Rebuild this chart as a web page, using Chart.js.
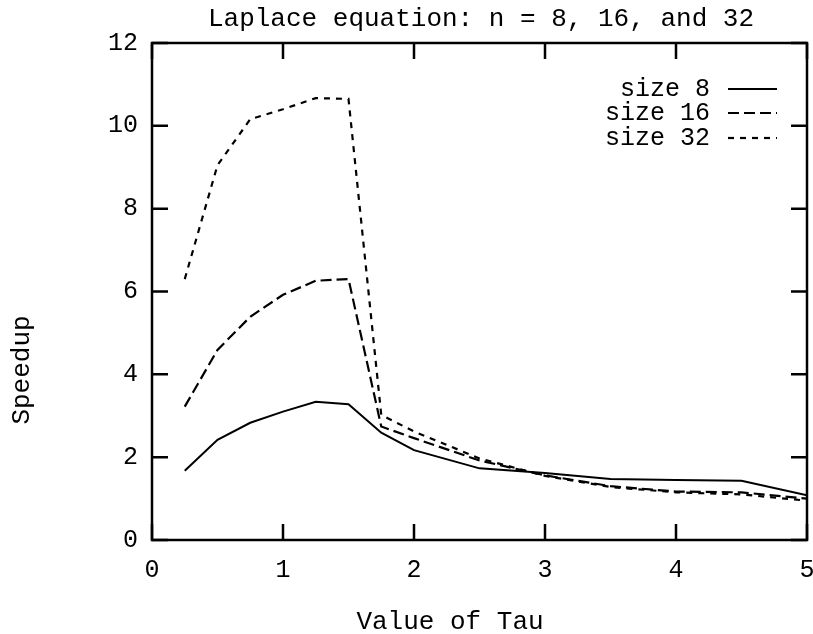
<!DOCTYPE html>
<html>
<head>
<meta charset="utf-8">
<script src="https://cdn.jsdelivr.net/npm/chart.js@4"></script>
<style>
  html, body { margin: 0; padding: 0; background: #fff; }
  #wrap { width: 813px; height: 634px; }
</style>
</head>
<body>
<div id="wrap"><canvas id="speedChart" width="813" height="634"></canvas></div>
<script>
// values
var tau = [0.25, 0.5, 0.75, 1.0, 1.25, 1.5, 1.75, 2.0, 2.5, 3.0, 3.5, 4.0, 4.5, 5.0];
var size8 = [1.67, 2.42, 2.83, 3.10, 3.34, 3.28, 2.59, 2.17, 1.73, 1.62, 1.47, 1.45, 1.43, 1.08];
var size16 = [3.22, 4.59, 5.39, 5.92, 6.26, 6.30, 2.74, 2.46, 1.92, 1.56, 1.30, 1.17, 1.15, 1.00];
var size32 = [6.30, 9.05, 10.16, 10.40, 10.67, 10.65, 3.02, 2.62, 1.97, 1.55, 1.28, 1.15, 1.10, 0.95];
var seriesNames = ['size 8', 'size 16', 'size 32'];
var xTicks = [0, 1, 2, 3, 4, 5];
var yTicks = [0, 2, 4, 6, 8, 10, 12];

var FONT = "'Liberation Mono', 'DejaVu Sans Mono', monospace";
var dashes = [[], [11, 5], [6, 6]];

function toPoints(ys) {
    return tau.map((t, i) => ({ x: t, y: ys[i] }));
}

// frame, inward ticks, title, axis titles and legend, gnuplot style
var gnuplotDecor = {
    id: 'gnuplotDecor',
    afterDraw: function(chart) {
        var ctx = chart.ctx;
        var a = chart.chartArea;
        var xs = chart.scales.x, ys = chart.scales.y;
        var tick = 16;
        ctx.save();
        ctx.strokeStyle = '#000';
        ctx.lineWidth = 2.5;
        ctx.strokeRect(a.left, a.top, a.right - a.left, a.bottom - a.top);

        ctx.beginPath();
        xTicks.forEach(function(v) {
            var px = xs.getPixelForValue(v);
            ctx.moveTo(px, a.bottom); ctx.lineTo(px, a.bottom - tick);
            ctx.moveTo(px, a.top); ctx.lineTo(px, a.top + tick);
        });
        yTicks.forEach(function(v) {
            var py = ys.getPixelForValue(v);
            ctx.moveTo(a.left, py); ctx.lineTo(a.left + tick, py);
            ctx.moveTo(a.right, py); ctx.lineTo(a.right - tick, py);
        });
        ctx.stroke();

        ctx.fillStyle = '#000';
        ctx.font = '26px ' + FONT;
        ctx.textBaseline = 'middle';
        ctx.textAlign = 'center';
        ctx.fillText('Laplace equation: n = 8, 16, and 32', 481, 19);
        ctx.fillText('Value of Tau', 450, 622);

        ctx.save();
        ctx.translate(22, 370);
        ctx.rotate(-Math.PI / 2);
        ctx.fillText('Speedup', 0, 0);
        ctx.restore();

        // legend: right aligned names with line samples
        var rowY = [89, 113, 138];
        ctx.font = '25px ' + FONT;
        ctx.textAlign = 'right';
        chart.data.datasets.forEach(function(ds, i) {
            ctx.fillText(ds.label, 710, rowY[i]);
            ctx.setLineDash(ds.borderDash || []);
            ctx.lineWidth = ds.borderWidth;
            ctx.beginPath();
            ctx.moveTo(728, rowY[i]);
            ctx.lineTo(777, rowY[i]);
            ctx.stroke();
        });
        ctx.restore();
    }
};

var ctx1 = document.getElementById('speedChart').getContext('2d');
var speedChart = new Chart(ctx1, {
    type: 'line',
    data: {
        datasets: [size8, size16, size32].map(function(vals, i) {
            return {
                label: seriesNames[i],
                data: toPoints(vals),
                borderColor: '#000',
                backgroundColor: '#000',
                borderWidth: i === 0 ? 2 : 2.2,
                borderDash: dashes[i],
                pointRadius: 0,
                tension: 0,
                fill: false
            };
        })
    },
    options: {
        responsive: false,
        animation: false,
        layout: {
            padding: { left: 0, right: 6, top: 43, bottom: 0 }
        },
        scales: {
            x: {
                type: 'linear',
                min: 0,
                max: 5,
                grid: { display: false, drawTicks: false },
                border: { display: false },
                afterFit: function(scale) {
                    scale.height = 94;
                    scale.paddingLeft = 0;
                    scale.paddingRight = 0;
                },
                afterBuildTicks: function(scale) { scale.ticks = xTicks.map(v => ({ value: v })); },
                ticks: {
                    color: '#000',
                    padding: 15,
                    maxRotation: 0,
                    font: { family: FONT, size: 25 }
                }
            },
            y: {
                min: 0,
                max: 12,
                grid: { display: false, drawTicks: false },
                border: { display: false },
                afterFit: function(scale) {
                    scale.width = 152;
                    scale.paddingTop = 0;
                    scale.paddingBottom = 0;
                },
                afterBuildTicks: function(scale) { scale.ticks = yTicks.map(v => ({ value: v })); },
                ticks: {
                    color: '#000',
                    padding: 14,
                    font: { family: FONT, size: 25 }
                }
            }
        },
        plugins: {
            legend: { display: false },
            title: { display: false },
            tooltip: { enabled: false }
        }
    },
    plugins: [gnuplotDecor]
});
</script>
</body>
</html>
